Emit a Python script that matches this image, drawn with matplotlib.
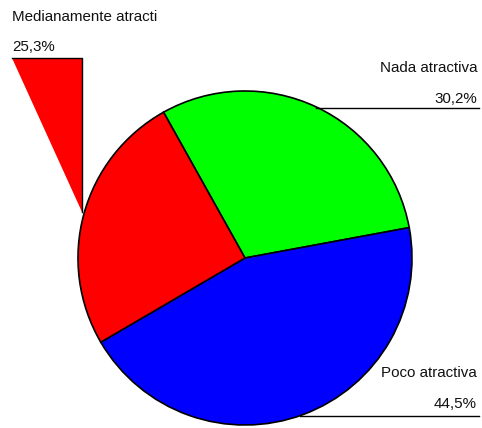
import matplotlib
matplotlib.use("Agg")
import matplotlib.pyplot as plt
from matplotlib.patches import Polygon

categories = ["Nada atractiva", "Poco atractiva", "Medianamente atracti"]
values = [30.2, 44.5, 25.3]
pct_labels = ["30,2%", "44,5%", "25,3%"]
colors = ["#00ff00", "#0000ff", "#ff0000"]

W, H = 482, 428
fig = plt.figure(figsize=(W / 100, H / 100), dpi=100)
ax = fig.add_axes([0, 0, 1, 1])

def Y(py):
    return H - py

cx, cy, r = 245, Y(258), 167
ax.pie(values, colors=colors, startangle=119.2, counterclock=False,
       center=(cx, cy), radius=r,
       wedgeprops=dict(edgecolor="black", linewidth=1.2), frame=True)
ax.set_xlim(0, W)
ax.set_ylim(0, H)
ax.set_aspect("equal")
ax.axis("off")

font = dict(family=["Liberation Sans", "DejaVu Sans"], fontsize=10.9, color="#111111")

# Nada atractiva
ax.plot([316, 479], [Y(108), Y(108)], color="black", lw=1)
ax.text(477, Y(68), categories[0], ha="right", va="center", **font)
ax.text(477, Y(99), pct_labels[0], ha="right", va="center", **font)

# Poco atractiva
ax.plot([300, 479], [Y(416), Y(416)], color="black", lw=1)
ax.text(477, Y(373), categories[1], ha="right", va="center", **font)
ax.text(477, Y(404), pct_labels[1], ha="right", va="center", **font)

# Medianamente atracti (with red triangle leader)
tri = Polygon([(12, Y(58)), (82, Y(58)), (82, Y(212))], closed=True,
              facecolor=colors[2], edgecolor="none")
ax.add_patch(tri)
ax.plot([12, 82, 82], [Y(58), Y(58), Y(212)], color="black", lw=1)
ax.text(12, Y(17), categories[2], ha="left", va="center", **font)
ax.text(12, Y(47), pct_labels[2], ha="left", va="center", **font)

fig.savefig("out.png", dpi=100)
